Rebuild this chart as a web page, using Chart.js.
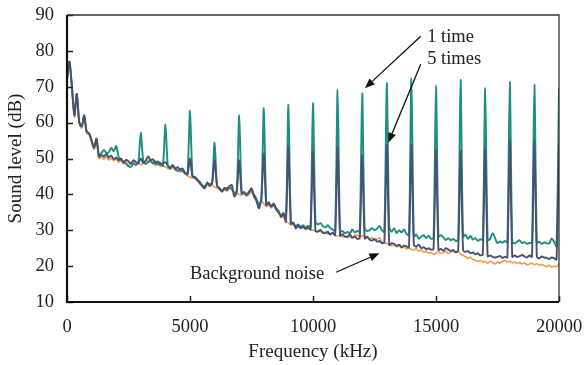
<!DOCTYPE html>
<html>
<head>
<meta charset="utf-8">
<script src="https://cdn.jsdelivr.net/npm/chart.js@4.4.0/dist/chart.umd.min.js"></script>
<style>
  html, body { margin: 0; padding: 0; background: #fff; }
</style>
</head>
<body>
<canvas id="grafico" width="585" height="365"></canvas>
<script>
// frequency (kHz), one sample every 100 kHz
const freq = [
  0,100,200,300,400,500,600,700,800,900,
  1000,1100,1200,1300,1400,1500,1600,1700,1800,1900,
  2000,2100,2200,2300,2400,2500,2600,2700,2800,2900,
  3000,3100,3200,3300,3400,3500,3600,3700,3800,3900,
  4000,4100,4200,4300,4400,4500,4600,4700,4800,4900,
  5000,5100,5200,5300,5400,5500,5600,5700,5800,5900,
  6000,6100,6200,6300,6400,6500,6600,6700,6800,6900,
  7000,7100,7200,7300,7400,7500,7600,7700,7800,7900,
  8000,8100,8200,8300,8400,8500,8600,8700,8800,8900,
  9000,9100,9200,9300,9400,9500,9600,9700,9800,9900,
  10000,10100,10200,10300,10400,10500,10600,10700,10800,10900,
  11000,11100,11200,11300,11400,11500,11600,11700,11800,11900,
  12000,12100,12200,12300,12400,12500,12600,12700,12800,12900,
  13000,13100,13200,13300,13400,13500,13600,13700,13800,13900,
  14000,14100,14200,14300,14400,14500,14600,14700,14800,14900,
  15000,15100,15200,15300,15400,15500,15600,15700,15800,15900,
  16000,16100,16200,16300,16400,16500,16600,16700,16800,16900,
  17000,17100,17200,17300,17400,17500,17600,17700,17800,17900,
  18000,18100,18200,18300,18400,18500,18600,18700,18800,18900,
  19000,19100,19200,19300,19400,19500,19600,19700,19800,19900,
  20000
];

// sound level (dB) - "1 time"
const oneTime = [
  72,77,70,62.5,68,60,59,62,57.5,57,
  55,53,55.5,50.8,51.5,52.4,51.6,51.8,53,52,
  53.5,50.4,49.6,49.2,48.5,47.8,47.7,48.6,48.2,49,
  57.2,49.3,48.5,49,49.4,48.6,49.2,48.3,48.8,47.9,
  59.5,47.8,47.2,48,47,46.5,47.1,46.4,46,45.8,
  63.3,45.2,44.5,44.2,43,42.5,42.2,43,42.8,43.4,
  54.4,42.4,41.8,41,41.5,41.8,42,41.4,40.4,41,
  62,40.5,40.4,40,40.8,41.2,40,38.8,37.2,38.4,
  64,37.4,37.3,36.8,37.1,35.8,35,34.2,34.8,33,
  65,32.2,31.8,31.2,31.6,31,31.4,30.8,31.2,31,
  65.4,32.4,31.6,32,31.2,30.8,31.4,30.6,30.2,29.8,
  69.1,29.6,29.8,29.2,29.5,29.2,30.2,29.4,29.8,29.6,
  68.2,30.4,29.8,30,30.6,30,30.4,31.2,30,29.5,
  71,30.8,29.6,30.6,29.2,30,29.4,30.2,29,28.6,
  72.3,28.2,28.8,27.6,28.2,28.6,27.8,28.5,27.6,27.9,
  70.2,28.2,28.6,28,27.3,27.8,27.2,27.6,27,27.4,
  71.9,28.2,28.8,27.6,28.4,27.4,27.8,27,27.5,27.3,
  69.6,27.2,27.6,29.2,27.8,26.4,26.9,26.5,27,26.6,
  71.4,26.8,26.3,26.8,27.2,26.4,26.7,26.2,26.5,26.4,
  70.6,26.5,26.8,26.2,26.6,26.4,26.3,27.7,26.8,25.5,
  69.6
];

// sound level (dB) - "5 times"
const fiveTimes = [
  72,77,70,62,68,60,59,62,57.5,57,
  55,53,55.5,50.5,51,50.5,51.3,50.2,50.8,49.8,
  50.3,49.5,50,48.8,49.6,49.2,48.6,49.5,49,48.7,
  50,48.8,49.4,50.6,49.5,49.8,48.6,49.2,48.3,48.6,
  49,48,47.5,48.2,47.2,47.6,46.8,47.2,46,45.6,
  50,45,44.9,44,43.5,42.2,41.7,43.3,42.5,43.1,
  49.5,42.4,41.6,40.7,41.8,41.2,42.3,42.6,39.4,40.6,
  49.5,40.2,40.7,39.8,40.6,41.7,39.5,38.2,36.1,38.9,
  51.4,37,37.8,36.6,37.5,36.2,35.4,33.8,34.6,32.4,
  53.3,31.8,32.2,30.5,31.4,30.6,31,30.4,30.8,30.2,
  51.9,29.8,29.6,30.1,29.3,29.2,29.6,28.8,29.3,28.6,
  53.3,28.5,28.9,28.2,28.2,28.8,27.9,28.3,27.6,27.8,
  51,27.7,28.2,27.4,27.1,27.6,26.8,27,26.4,26.6,
  53.8,25.9,26.4,26.2,25.6,26,25.3,25.7,25.5,25.2,
  53.8,25.9,25.4,26,25,25.3,24.7,25,24.6,24.8,
  52.6,24.5,24.8,24.3,25,24.6,24.2,24.5,23.9,24.3,
  52.2,24.5,24,24.2,23.6,23.8,23.3,23.6,23,23.2,
  52.6,22.7,23,22.6,22.4,22.6,22.8,22.3,22.6,22.4,
  55,22.6,23,22.5,22.8,23.1,22.7,22.4,23,22.6,
  55.2,22.6,22.2,22.7,22.4,22.3,22,22.4,22.2,21.8,
  54
];

// sound level (dB) - background noise
const background = [
  71.5,76.5,69.5,61.5,67.5,59.5,58.5,61.5,57,56.5,
  54.5,52.5,54.5,50,50.4,49.8,50.5,49.6,50,49.4,
  49.8,49,49.3,48.5,49,48.2,48.6,48.9,48.3,48.6,
  48.2,48.8,48.4,49.5,48.9,48.6,48,48.6,47.8,48.2,
  47.6,47.3,47,47.6,46.8,47,46.2,46.6,45.6,45.2,
  44.8,44.6,44.4,43.6,43.2,42.4,42,42.6,42.1,42.6,
  42,41.8,41.3,40.8,41.3,40.9,41.6,41.8,39.8,40.3,
  40,39.8,40.2,39.5,40,40.8,39.2,38.4,36.8,38.2,
  37.4,36.6,37,36.2,36.8,35.6,34.8,33.5,33.8,32.5,
  32,31.5,31.6,30.8,30.9,30.6,30.8,30.2,30.4,30.1,
  30,29.9,29.6,29.8,29.4,29.5,29,28.9,29.2,28.6,
  28.4,28.5,28.2,28.4,28,28.3,27.8,28.4,28.7,28.1,
  28.5,28.2,27.9,27.6,28,27.3,27.5,27.9,26.8,26.4,
  26.3,26,25.7,25.9,25.4,25.6,25.1,25.3,24.8,25,
  24.7,24.5,24.9,24.2,24.5,23.9,24.1,23.6,23.8,23.3,
  23.6,24,23.5,23.8,24.1,23.6,23.9,24.2,23.7,24,
  23.4,23,22.6,22.2,22.5,21.9,21.6,21.3,21.5,21.1,
  21.3,20.8,21.4,21,20.6,21.2,20.8,21.3,21.6,21.1,
  21.4,20.9,21.2,20.7,21,20.6,20.9,20.3,20.6,20.8,
  20.4,20.7,20.2,20.5,20.1,19.9,20.3,19.7,20,19.8,
  20.8
];

// labels with arrows, in chart units (kHz, dB)
const noteText = ['1 time', '5 times', 'Background noise'];
const noteAt = [[14640, 82.6], [14640, 76.3], [5000, 16.4]];
const arrowFrom = [[14380, 84.1], [14380, 76.3], [10940, 18.3]];
const arrowTo = [[12110, 69.6], [13060, 54.4], [12700, 23.6]];

const serif = "'Liberation Serif', 'Times New Roman', serif";
const ink = '#222';

function pts(vals) {
  return freq.map((f, i) => ({ x: f, y: vals[i] }));
}

const frame = {
  id: 'frame',
  afterDraw(chart) {
    const { ctx, chartArea: a, scales: { x, y } } = chart;
    ctx.save();
    ctx.strokeStyle = ink;
    // inward ticks
    ctx.lineWidth = 1.5;
    ctx.beginPath();
    x.ticks.forEach(t => {
      const px = Math.round(x.getPixelForValue(t.value)) + 0.5;
      ctx.moveTo(px, a.bottom);
      ctx.lineTo(px, a.bottom - 6);
    });
    y.ticks.forEach(t => {
      const py = Math.round(y.getPixelForValue(t.value)) + 0.5;
      ctx.moveTo(a.left, py);
      ctx.lineTo(a.left + 6, py);
    });
    ctx.stroke();
    // box
    ctx.lineWidth = 1.3;
    ctx.strokeStyle = '#333';
    ctx.beginPath();
    ctx.moveTo(a.left, a.top);
    ctx.lineTo(a.right, a.top);
    ctx.lineTo(a.right, a.bottom);
    ctx.stroke();
    ctx.lineWidth = 2.2;
    ctx.strokeStyle = '#111';
    ctx.beginPath();
    ctx.moveTo(a.left, a.top);
    ctx.lineTo(a.left, a.bottom);
    ctx.lineTo(a.right, a.bottom);
    ctx.stroke();

    // notes
    ctx.fillStyle = ink;
    ctx.font = '18.5px ' + serif;
    ctx.textBaseline = 'alphabetic';
    ctx.textAlign = 'left';
    noteText.forEach((txt, i) => {
      ctx.fillText(txt, x.getPixelForValue(noteAt[i][0]), y.getPixelForValue(noteAt[i][1]));
    });
    // arrows
    ctx.strokeStyle = '#111';
    ctx.fillStyle = '#111';
    ctx.lineWidth = 1.3;
    arrowFrom.forEach((p, i) => {
      const x0 = x.getPixelForValue(p[0]), y0 = y.getPixelForValue(p[1]);
      const x1 = x.getPixelForValue(arrowTo[i][0]), y1 = y.getPixelForValue(arrowTo[i][1]);
      const ang = Math.atan2(y1 - y0, x1 - x0);
      const len = 10, half = 4;
      const bx = x1 - len * Math.cos(ang), by = y1 - len * Math.sin(ang);
      ctx.beginPath();
      ctx.moveTo(x0, y0);
      ctx.lineTo(bx, by);
      ctx.stroke();
      ctx.beginPath();
      ctx.moveTo(x1, y1);
      ctx.lineTo(bx + half * Math.sin(ang), by - half * Math.cos(ang));
      ctx.lineTo(bx - half * Math.sin(ang), by + half * Math.cos(ang));
      ctx.closePath();
      ctx.fill();
    });
    ctx.restore();
  }
};

new Chart(document.getElementById('grafico'), {
  type: 'line',
  data: {
    datasets: [
      { label: '5 times', data: pts(fiveTimes), borderColor: '#4a5170', borderWidth: 1.9, order: 1 },
      { label: '1 time', data: pts(oneTime), borderColor: '#1d8f80', borderWidth: 1.9, order: 2 },
      { label: 'Background noise', data: pts(background), borderColor: '#f39a4c', borderWidth: 1.6, order: 3 }
    ]
  },
  options: {
    responsive: false,
    animation: false,
    layout: { padding: { top: 15, right: 26, left: 0, bottom: 0 } },
    elements: { point: { radius: 0 }, line: { tension: 0.25 } },
    plugins: { legend: { display: false }, tooltip: { enabled: false } },
    scales: {
      x: {
        type: 'linear', min: 0, max: 20000,
        grid: { display: false, drawTicks: false },
        border: { display: false },
        ticks: { stepSize: 5000, maxRotation: 0, padding: 14, color: ink, font: { family: serif, size: 18.5 }, callback: v => String(v) },
        title: { display: true, text: 'Frequency (kHz)', color: ink, font: { family: serif, size: 19 }, padding: { top: 0, bottom: 2 } },
        afterFit: s => { s.height = 63; s.paddingLeft = 0; s.paddingRight = 0; }
      },
      y: {
        min: 10, max: 90,
        grid: { display: false, drawTicks: false },
        border: { display: false },
        ticks: { stepSize: 10, padding: 13, color: ink, font: { family: serif, size: 18.5 }, callback: v => String(v) },
        title: { display: true, text: 'Sound level (dB)', color: ink, font: { family: serif, size: 19 }, padding: { top: 5, bottom: 0 } },
        afterFit: s => { s.width = 67; s.paddingTop = 0; s.paddingBottom = 0; }
      }
    }
  },
  plugins: [frame]
});
</script>
</body>
</html>
